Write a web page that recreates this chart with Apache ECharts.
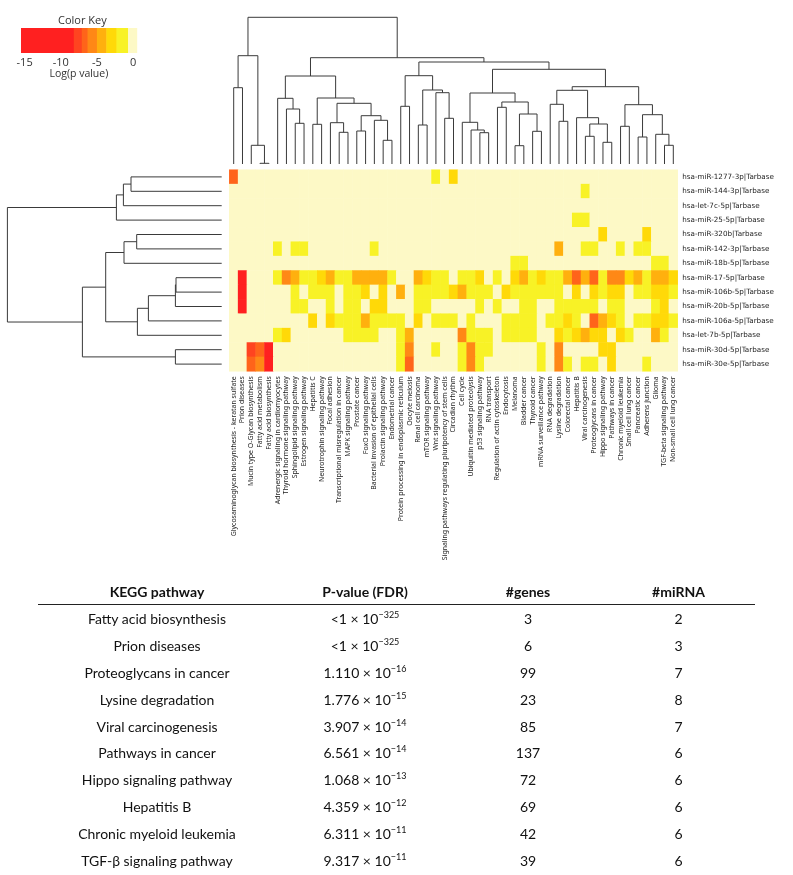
<!DOCTYPE html>
<html><head><meta charset="utf-8">
<script src="https://cdn.jsdelivr.net/npm/echarts@6/dist/echarts.min.js"></script>
<style>
html,body{margin:0;padding:0;background:#fff;}
#chart{position:absolute;left:0;top:0;width:793px;height:875px;}
#tbl{position:absolute;left:38px;top:579px;width:717px;font-family:Lato,"Liberation Sans",sans-serif;color:#111;}
#tbl table{border-collapse:collapse;table-layout:fixed;width:717px;}
#tbl th{font-weight:bold;font-size:14px;height:25px;padding:0;border-bottom:1.5px solid #222;text-align:center;}
#tbl td{font-size:14px;height:26.9px;padding:0;text-align:center;}
#tbl sup{font-size:9px;vertical-align:6px;line-height:0;}
</style></head><body>
<div id="chart"></div>
<div id="tbl"></div>
<script>
const colLabels = ['Glycosaminoglycan biosynthesis - keratan sulfate','Prion diseases','Mucin type O-Glycan biosynthesis','Fatty acid metabolism','Fatty acid biosynthesis','Adrenergic signaling in cardiomyocytes','Thyroid hormone signaling pathway','Sphingolipid signaling pathway','Estrogen signaling pathway','Hepatitis C','Neurotrophin signaling pathway','Focal adhesion','Transcriptional misregulation in cancer','MAPK signaling pathway','Prostate cancer','FoxO signaling pathway','Bacterial invasion of epithelial cells','Prolactin signaling pathway','Endometrial cancer','Protein processing in endoplasmic reticulum','Oocyte meiosis','Renal cell carcinoma','mTOR signaling pathway','Wnt signaling pathway','Signaling pathways regulating pluripotency of stem cells','Circadian rhythm','Cell cycle','Ubiquitin mediated proteolysis','p53 signaling pathway','RNA transport','Regulation of actin cytoskeleton','Endocytosis','Melanoma','Bladder cancer','Thyroid cancer','mRNA surveillance pathway','RNA degradation','Lysine degradation','Colorectal cancer','Hepatitis B','Viral carcinogenesis','Proteoglycans in cancer','Hippo signaling pathway','Pathways in cancer','Chronic myeloid leukemia','Small cell lung cancer','Pancreatic cancer','Adherens junction','Glioma','TGF-beta signaling pathway','Non-small cell lung cancer'];
const rowLabels = ['hsa-miR-1277-3p|Tarbase','hsa-miR-144-3p|Tarbase','hsa-let-7c-5p|Tarbase','hsa-miR-25-5p|Tarbase','hsa-miR-320b|Tarbase','hsa-miR-142-3p|Tarbase','hsa-miR-18b-5p|Tarbase','hsa-miR-17-5p|Tarbase','hsa-miR-106b-5p|Tarbase','hsa-miR-20b-5p|Tarbase','hsa-miR-106a-5p|Tarbase','hsa-let-7b-5p|Tarbase','hsa-miR-30d-5p|Tarbase','hsa-miR-30e-5p|Tarbase'];
// log(p value) per miRNA row, 51 pathway columns
const logP = [
 [-7,0,0,0,0,0,0,0,0,0, 0,0,0,0,0,0,0,0,0,0, 0,0,0,-2,0,-3.5,0,0,0,0, 0,0,0,0,0,0,0,0,0,0, 0,0,0,0,0,0,0,0,0,0, 0],
 [0,0,0,0,0,0,0,0,0,0, 0,0,0,0,0,0,0,0,0,0, 0,0,0,0,0,0,0,0,0,0, 0,0,0,0,0,0,0,0,0,0, -2,0,0,0,0,0,0,0,0,0, 0],
 [0,0,0,0,0,0,0,0,0,0, 0,0,0,0,0,0,0,0,0,0, 0,0,0,0,0,0,0,0,0,0, 0,0,0,0,0,0,0,0,0,0, 0,0,0,0,0,0,0,0,0,0, 0],
 [0,0,0,0,0,0,0,0,0,0, 0,0,0,0,0,0,0,0,0,0, 0,0,0,0,0,0,0,0,0,0, 0,0,0,0,0,0,0,0,0,-2, -2,0,0,0,0,0,0,0,0,0, 0],
 [0,0,0,0,0,0,0,0,0,0, 0,0,0,0,0,0,0,0,0,0, 0,0,0,0,0,0,0,0,0,0, 0,0,0,0,0,0,0,0,0,0, 0,0,-3.5,0,0,0,0,-3.5,0,0, 0],
 [0,0,0,0,0,-2,0,-2,-2,0, 0,0,0,0,0,0,-2,0,0,0, 0,0,0,0,0,0,0,0,0,0, 0,0,0,0,0,0,0,-5,0,0, -2,-2,0,0,-2,0,-2,-2,0,0, 0],
 [0,0,0,0,0,0,0,0,0,0, 0,0,0,0,0,0,0,0,0,0, 0,0,0,0,0,0,0,0,0,0, 0,0,-2,-2,0,0,0,0,0,0, 0,0,0,0,0,0,0,0,-2,-2, 0],
 [0,-12,0,0,0,-2,-5.5,-4.5,-2,-2, -3.5,-4.5,-2,-2,-4.5,-5,-5,-5,-2,0, 0,-5,-3.5,-2,-2,0,-2,-2,-3.5,0, -2,0,-3.5,-5,-2,-3.5,-2,-2,-5,-6.5, -5,-6.5,-2,-5.5,-5.5,-3.5,-5,-2,-5,-4.5, -3.5],
 [0,-12,0,0,0,0,0,-2,0,-2, -2,-2,0,-2,-2,-3.5,0,-3.5,0,-5, 0,-2,-2,-2,-2,-3.5,-4.5,-2,-2,-2, 0,-3.5,-2,-2,-2,-2,-2,-2,0,-3.5, 0,-3.5,-2,-3.5,-3.5,0,-2,-2,-3.5,-3.5, -2],
 [0,-12,0,0,0,0,0,-2,-2,0, 0,-2,0,-2,-2,0,-3.5,-3.5,0,0, 0,-2,-2,0,0,0,0,0,-2,0, -2,0,0,-2,-2,0,0,-2,-2,-2, -2,-2,0,-2,-2,0,0,0,-2,-3.5, 0],
 [0,0,0,0,0,0,0,0,0,-3.5, 0,-3.5,-2,-2,-2,-4.5,-2,-2,-2,-2, 0,-3.5,0,-2,-2,-2,0,-2,0,0, 0,-2,-2,-2,-2,0,-2,-2,-3.5,-2, 0,-6.5,-5,-3.5,-2,0,-2,-2,-3.5,-3.5, -2],
 [0,0,0,0,0,-2,-3.5,0,0,0, 0,0,0,-2,-2,-2,-2,0,0,-2, -4.5,0,0,0,0,0,-5.5,-2,-2,-2, 0,-2,-2,-2,-2,0,0,-3.5,-2,-3.5, -4.5,-3.5,-3.5,0,-3.5,-2,0,0,-4.5,-2, 0],
 [0,0,-7.5,-6.8,-12,0,0,0,0,0, 0,0,0,0,0,0,0,0,0,-2, -5.5,0,0,-2,0,0,-2,-5.5,-2,-2, 0,0,0,0,0,-2,0,-5.5,0,0, 0,0,-3.5,-3.5,0,0,0,0,0,0, 0],
 [0,0,-6.8,-6,-12,0,0,0,0,0, 0,0,0,0,0,0,0,0,0,-2, -6.5,0,0,0,0,0,-2,-5.5,-2,0, 0,0,0,0,0,-2,0,-5.5,-2,0, -2,-2,0,-3.5,0,0,0,-2,0,0, 0]
];
// dendrograms: [mergeHeight, left, right]; leaves are column/row indices
const colTree = [146.7,
  [108.3, [76.3, 0, 1], [18.7, 2, [0.7, 3, 4]]],
  [106.3,
    [88, [65.7, 5, [55, 6, [40.7, 7, 8]]],
         [66, [39.7, 9, 10], [60.7, [41.3, 11, [31.7, 12, 13]], [48.3, [33, 14, 15], [43.7, 16, [23.7, 17, 18]]]]]],
    [102,
      [88.3, [57.7, 19, 20], [74, [39, 21, 22], [71.3, 23, [45.7, 24, 25]]]],
      [94.7,
        [71, [41.7, 26, [34, 27, [31.3, 28, 29]]], [62, [56.7, 30, 31], [50, [18.3, 32, 33], [32.7, 34, 35]]]],
        [77.3, [73.7, [59.7, 36, [42.7, 37, 38]], [46.3, 39, [40, [27.7, 40, 41], [21.7, 42, 43]]]],
               [59.3, [37.7, 44, 45], [49.3, [27, 46, 47], [29.7, 48, [18.7, 49, 50]]]]]]]]];
const rowTree = [214.3,
  [105.3, [98.3, [90.7, 0, 1], 2], 3],
  [139.3, [116, [97.7, [85, 4, 5], 6], [84.3, [73.3, [46.3, [45.7, 7, 8], 9], 10], 11]], [46.3, 12, 13]]];
const keyBreaks = [-15.5, -8.2, -7.1, -6.3, -5, -3.7, -2.3, -0.7, 0.5];
const keyColors = ['#FF2020','#FF4420','#FF641A','#FF8816','#FFB00E','#FFD908','#F8F226','#FDF9C6'];
const keyTicks = [-15, -10, -5, 0];
const pathways = ['Fatty acid biosynthesis','Prion diseases','Proteoglycans in cancer','Lysine degradation','Viral carcinogenesis','Pathways in cancer','Hippo signaling pathway','Hepatitis B','Chronic myeloid leukemia','TGF-β signaling pathway'];
const pMantissa = ['<1','<1','1.110','1.776','3.907','6.561','1.068','4.359','6.311','9.317'];
const pExponent = [-325,-325,-16,-15,-14,-14,-13,-12,-11,-11];
const nGenes = [3,6,99,23,85,137,72,69,42,39];
const nMiRNA = [2,3,7,8,7,6,6,6,6,6];

function layout(node, segs){
  if (typeof node === 'number') return {pos: node + 0.5, h: 0};
  const a = layout(node[1], segs), b = layout(node[2], segs);
  segs.push([a.pos, a.h, b.pos, b.h, node[0]]);
  return {pos: (a.pos + b.pos) / 2, h: node[0]};
}
const colSegs = []; layout(colTree, colSegs);
const rowSegs = []; layout(rowTree, rowSegs);

const heatData = [];
logP.forEach((row, r) => row.forEach((v, c) => heatData.push([c, r, v])));

const HM = {left: 229.3, top: 169.7, width: 448.4, height: 201.6};
const lineStyle = {color: '#3a3a3a', width: 1, opacity: 1};
const chart = echarts.init(document.getElementById('chart'), null, {renderer: 'canvas'});
chart.setOption({
  animation: false,
  backgroundColor: '#fff',
  title: {text: 'Color Key', left: 53, top: 10, textStyle: {fontSize: 11, fontWeight: 'normal', color: '#333', fontFamily: 'Open Sans'}},
  grid: [
    {left: HM.left, top: HM.top, width: HM.width, height: HM.height},
    {left: HM.left, top: 14, width: HM.width, height: 150},
    {left: 221.7 - 215, top: HM.top, width: 215, height: HM.height},
    {left: 21, top: 28, width: 115.7, height: 25}
  ],
  xAxis: [
    {type: 'category', gridIndex: 0, data: colLabels, position: 'bottom',
     axisLine: {show: false}, axisTick: {show: false}, splitLine: {show: false},
     axisLabel: {rotate: 90, interval: 0, fontSize: 6.95, fontFamily: 'Noto Sans', color: '#222', margin: 5}},
    {type: 'value', gridIndex: 1, min: 0, max: 51, show: false},
    {type: 'value', gridIndex: 2, min: 0, max: 215, inverse: true, show: false},
    {type: 'value', gridIndex: 3, min: keyBreaks[0], max: keyBreaks[keyBreaks.length - 1],
     axisLine: {show: false}, axisTick: {show: false}, splitLine: {show: false},
     axisLabel: {customValues: keyTicks, fontSize: 11, fontFamily: 'Open Sans', color: '#333', margin: 4},
     name: 'Log(p value)', nameLocation: 'middle', nameGap: 16,
     nameTextStyle: {fontSize: 10.5, fontFamily: 'Open Sans', color: '#333'}}
  ],
  yAxis: [
    {type: 'category', gridIndex: 0, data: rowLabels, position: 'right', inverse: true,
     axisLine: {show: false}, axisTick: {show: false}, splitLine: {show: false},
     axisLabel: {interval: 0, fontSize: 7.2, fontFamily: 'DejaVu Sans', color: '#222', margin: 4.5}},
    {type: 'value', gridIndex: 1, min: 0, max: 150, show: false},
    {type: 'value', gridIndex: 2, min: 0, max: 14, inverse: true, show: false},
    {type: 'category', gridIndex: 3, data: ['key'], show: false}
  ],
  visualMap: {
    type: 'piecewise', show: false, seriesIndex: 0, dimension: 2,
    pieces: keyColors.map((c, i) => ({gte: keyBreaks[i], lt: keyBreaks[i + 1], color: c}))
  },
  series: [
    {type: 'heatmap', xAxisIndex: 0, yAxisIndex: 0, data: heatData, itemStyle: {borderWidth: 0}, emphasis: {disabled: true}},
    {type: 'lines', coordinateSystem: 'cartesian2d', xAxisIndex: 1, yAxisIndex: 1, polyline: true, silent: true,
     lineStyle: lineStyle,
     data: colSegs.map(s => ({coords: [[s[0], s[1]], [s[0], s[4]], [s[2], s[4]], [s[2], s[3]]]}))},
    {type: 'lines', coordinateSystem: 'cartesian2d', xAxisIndex: 2, yAxisIndex: 2, polyline: true, silent: true,
     lineStyle: lineStyle,
     data: rowSegs.map(s => ({coords: [[s[1], s[0]], [s[4], s[0]], [s[4], s[2]], [s[3], s[2]]]}))},
    {type: 'custom', xAxisIndex: 3, yAxisIndex: 3, silent: true,
     data: keyColors.map((c, i) => [keyBreaks[i], keyBreaks[i + 1], i]),
     renderItem: function (params, api) {
       const p0 = api.coord([api.value(0), 0]);
       const p1 = api.coord([api.value(1), 0]);
       const h = api.size([0, 1])[1];
       return {type: 'rect', shape: {x: p0[0], y: p0[1] - h / 2, width: p1[0] - p0[0] + 0.5, height: h},
               style: {fill: keyColors[api.value(2)]}};
     }}
  ]
});

// table
let html = '<table><colgroup><col style="width:238px"><col style="width:178px"><col style="width:148px"><col style="width:153px"></colgroup>';
html += '<tr><th>KEGG pathway</th><th>P-value (FDR)</th><th>#genes</th><th>#miRNA</th></tr>';
pathways.forEach((p, i) => {
  const m = pMantissa[i].replace('<', '&lt;');
  html += '<tr><td>' + p + '</td><td>' + m + ' × 10<sup>−' + Math.abs(pExponent[i]) + '</sup></td><td>' + nGenes[i] + '</td><td>' + nMiRNA[i] + '</td></tr>';
});
html += '</table>';
document.getElementById('tbl').innerHTML = html;
</script>
</body></html>
